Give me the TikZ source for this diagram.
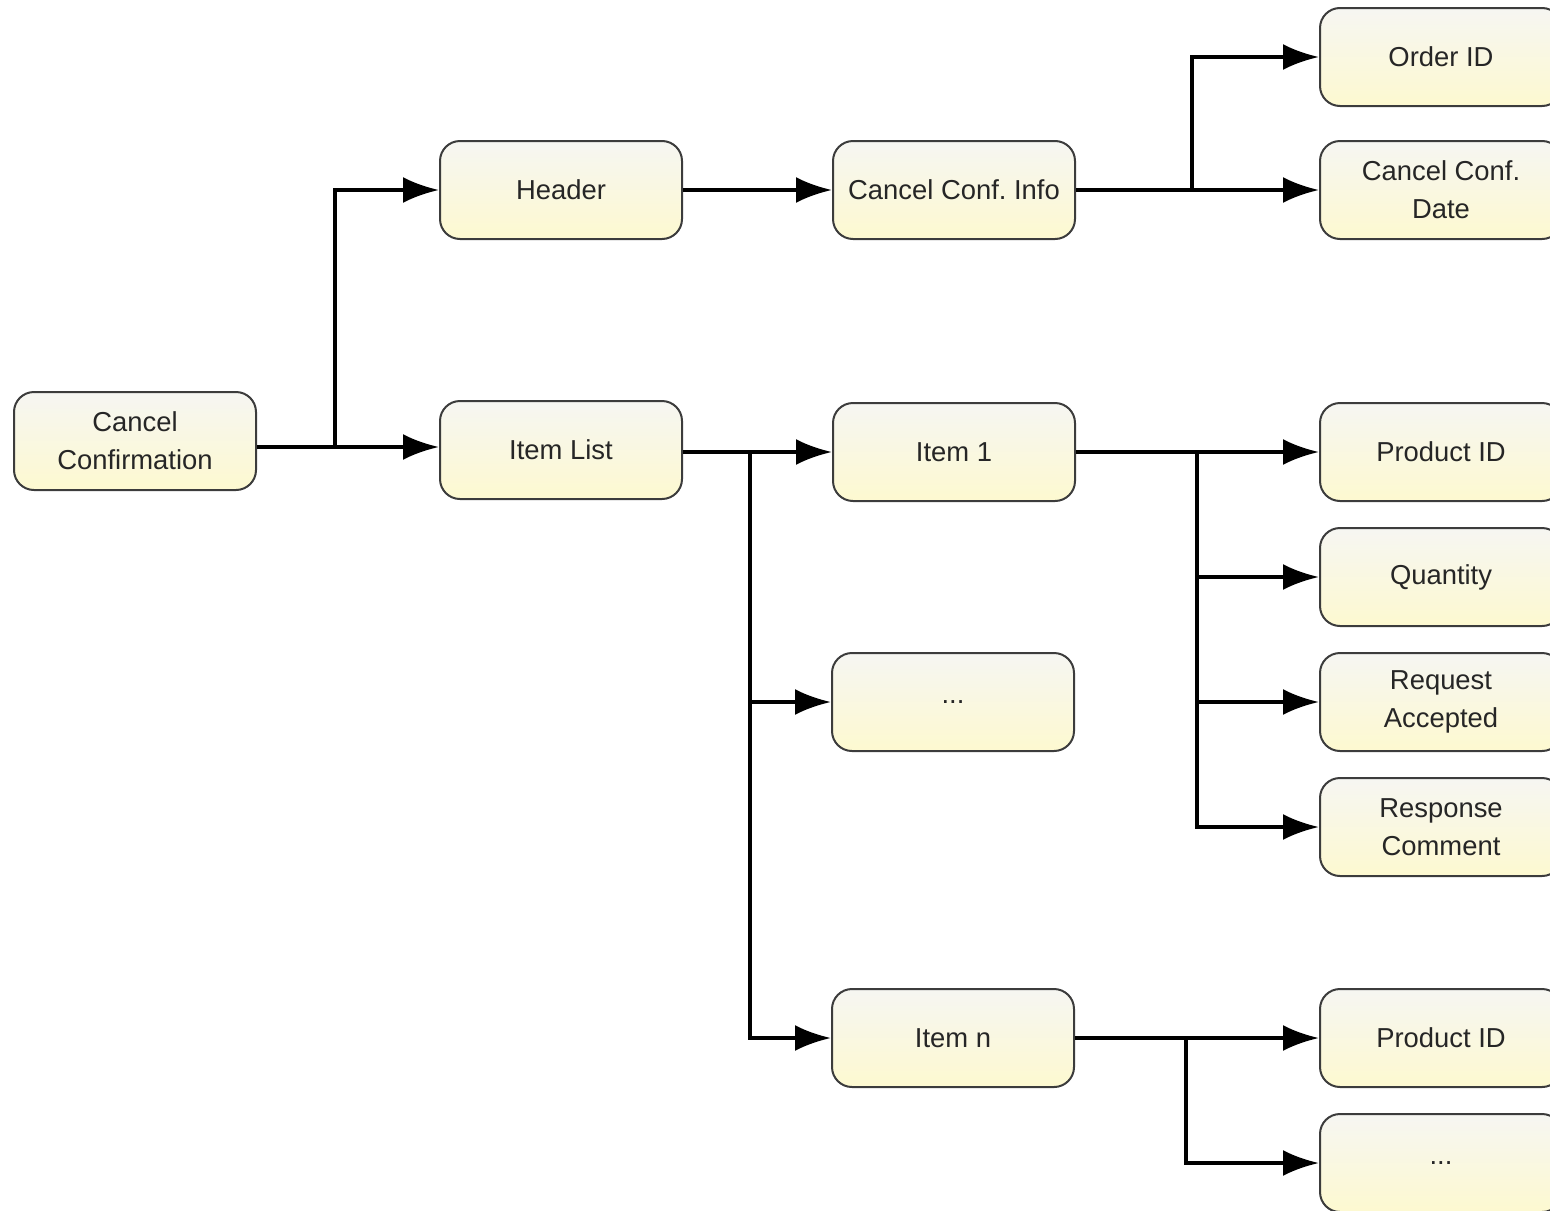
\documentclass[tikz,border=0pt]{standalone}
\usepackage{fontspec}
\setmainfont{Liberation Sans}
\usepackage{tikz}
\usetikzlibrary{arrows.meta}

\definecolor{boxtop}{RGB}{246,246,242}
\definecolor{boxbot}{RGB}{253,249,208}
\definecolor{boxline}{RGB}{60,60,60}

\tikzset{
  box/.style={draw=boxline,line width=1pt,rounded corners=10pt,
    top color=boxtop,bottom color=boxbot,
    minimum width=121pt,minimum height=49pt,align=center,
    font=\fontsize{13.7}{19}\selectfont,text=black!85},
  link/.style={black,line width=2pt}
}

\begin{document}
\begin{tikzpicture}[x=0.5pt,y=-0.5pt]
\useasboundingbox (0,0) rectangle (1550,1210);
\begin{scope}[>={Latex[length=18pt,width=13pt]}]

    % first level
    \node[box] (cc) at (135,441) {Cancel\\Confirmation};
    \node[box] (hdr) at (561,190) {Header};
    \node[box] (il) at (561,450) {Item List};

    % second level
    \node[box] (info) at (954,190) {Cancel Conf.\ Info};
    \node[box] (i1) at (954,452) {Item 1};
    \node[box] (idots) at (953,702) {...};
    \node[box] (in) at (953,1038) {Item n};

    % leaves
    \node[box] (oid) at (1441,57) {Order ID};
    \node[box] (date) at (1441,190) {Cancel Conf.\\Date};
    \node[box] (pid1) at (1441,452) {Product ID};
    \node[box] (qty) at (1441,577) {Quantity};
    \node[box] (acc) at (1441,702) {Request\\Accepted};
    \node[box] (resp) at (1441,827) {Response\\Comment};
    \node[box] (pidn) at (1441,1038) {Product ID};
    \node[box] (ndots) at (1441,1163) {...};

    % junctions
    \coordinate (j1) at (335,447);
    \coordinate (j2) at (1192,190);
    \coordinate (j3) at (750,452);
    \coordinate (j4) at (1197,452);
    \coordinate (j5) at (1186,1038);

    \draw[link,->] (cc.east |- j1) -- (il.west |- j1);
    \draw[link,->] (j1) |- (hdr.west);
    \draw[link,->] (hdr) -- (info);
    \draw[link,->] (info) -- (date);
    \draw[link,->] (j2) |- (oid.west);
    \draw[link,->] (il.east |- j3) -- (i1.west);
    \draw[link,->] (j3) |- (idots.west);
    \draw[link,->] (j3) |- (in.west);
    \draw[link,->] (i1) -- (pid1);
    \draw[link,->] (j4) |- (qty.west);
    \draw[link,->] (j4) |- (acc.west);
    \draw[link,->] (j4) |- (resp.west);
    \draw[link,->] (in) -- (pidn);
    \draw[link,->] (j5) |- (ndots.west);
\end{scope}
\end{tikzpicture}
\end{document}
